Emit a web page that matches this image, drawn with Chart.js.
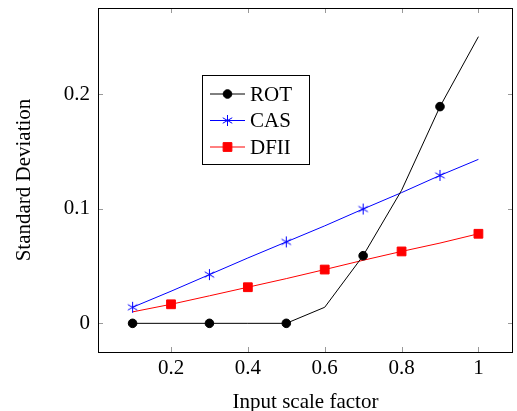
<!DOCTYPE html>
<html>
<head>
<meta charset="utf-8">
<script src="https://cdn.jsdelivr.net/npm/chart.js@4.4.0/dist/chart.umd.min.js"></script>
<style>
  html, body { margin: 0; padding: 0; background: #fff; }
  #wrap { width: 517px; height: 411px; }
</style>
</head>
<body>
<div id="wrap"><canvas id="grafico" width="517" height="411"></canvas></div>
<script>
const escala = [0.1, 0.2, 0.3, 0.4, 0.5, 0.6, 0.7, 0.8, 0.9, 1.0];
const rot  = [0, 0, 0, 0, 0, 0.014, 0.059, 0.116, 0.189, 0.25];
const cas  = [0.014, 0.028, 0.0425, 0.057, 0.071, 0.085, 0.0997, 0.114, 0.129, 0.143];
const dfii = [0.010, 0.0166, 0.024, 0.0315, 0.039, 0.0469, 0.055, 0.0627, 0.070, 0.0781];
const ticksX = [0.2, 0.4, 0.6, 0.8, 1];
const ticksY = [0, 0.1, 0.2];

const fonte = "'Liberation Serif', 'DejaVu Serif', serif";
const tam = 21;

// marcas só em pontos alternados (mark repeat)
const impar = (r) => escala.map((_, i) => i % 2 === 0 ? r : 0);
const par = (r) => escala.map((_, i) => i % 2 === 1 ? r : 0);

const pts = (ys) => escala.map((x, i) => ({ x: x, y: ys[i] }));

// asterisco de 6 pontas (como no pgfplots)
function asterisco(cor, r) {
  const c = document.createElement('canvas');
  const s = Math.ceil(r * 2 + 2);
  c.width = s; c.height = s;
  const g = c.getContext('2d');
  g.strokeStyle = cor;
  g.lineWidth = 1;
  g.beginPath();
  for (let k = 0; k < 3; k++) {
    const ang = Math.PI / 2 + k * Math.PI / 3;
    const dx = Math.cos(ang) * r, dy = Math.sin(ang) * r;
    g.moveTo(s / 2 - dx, s / 2 - dy);
    g.lineTo(s / 2 + dx, s / 2 + dy);
  }
  g.stroke();
  return c;
}
const estrela = asterisco('#0000ff', 5.5);

// caixa do eixo, ticks internos e legenda
const moldura = {
  id: 'moldura',
  afterDraw(chart) {
    const { ctx, chartArea: a, scales } = chart;
    ctx.save();
    ctx.strokeStyle = '#999';
    ctx.lineWidth = 1;
    ctx.beginPath();
    ticksX.forEach(v => {
      const px = Math.round(scales.x.getPixelForValue(v)) + 0.5;
      ctx.moveTo(px, a.bottom); ctx.lineTo(px, a.bottom - 5);
      ctx.moveTo(px, a.top); ctx.lineTo(px, a.top + 5);
    });
    ticksY.forEach(v => {
      const py = Math.round(scales.y.getPixelForValue(v)) + 0.5;
      ctx.moveTo(a.left, py); ctx.lineTo(a.left + 5, py);
      ctx.moveTo(a.right, py); ctx.lineTo(a.right - 5, py);
    });
    ctx.stroke();

    ctx.strokeStyle = '#000';
    ctx.strokeRect(Math.round(a.left) + 0.5, Math.round(a.top) + 0.5,
      Math.round(a.right - a.left) - 1, Math.round(a.bottom - a.top));

    // legenda
    const lx = 202.5, ly = 75.5, lw = 107, lh = 89;
    ctx.fillStyle = '#fff';
    ctx.fillRect(lx, ly, lw, lh);
    ctx.strokeStyle = '#000';
    ctx.strokeRect(lx, ly, lw, lh);
    chart.data.datasets.forEach((ds, i) => {
      const y = 94 + i * 26.5;
      ctx.strokeStyle = ds.borderColor;
      ctx.lineWidth = 1;
      ctx.beginPath();
      ctx.moveTo(210, y); ctx.lineTo(245, y);
      ctx.stroke();
      ctx.fillStyle = ds.backgroundColor;
      Chart.helpers.drawPoint(ctx, { pointStyle: ds.pointStyle, radius: ds.legendaRaio, borderWidth: 1 }, 227.5, y);
      ctx.fillStyle = '#000';
      ctx.font = tam + 'px ' + fonte;
      ctx.textBaseline = 'middle';
      ctx.textAlign = 'left';
      ctx.fillText(ds.label, 250, y + 1);
    });
    ctx.restore();
  }
};

const ctxGrafico = document.getElementById('grafico').getContext('2d');

new Chart(ctxGrafico, {
  type: 'line',
  data: {
    datasets: [{
      label: 'ROT',
      data: pts(rot),
      borderColor: '#000',
      backgroundColor: '#000',
      borderWidth: 1,
      pointStyle: 'circle',
      pointRadius: impar(4.3),
      legendaRaio: 4.3,
      pointBorderWidth: 1
    }, {
      label: 'CAS',
      data: pts(cas),
      borderColor: '#0000ff',
      backgroundColor: '#0000ff',
      borderWidth: 1,
      pointStyle: estrela,
      pointRadius: impar(5.5),
      legendaRaio: 5.5,
      pointBorderWidth: 1
    }, {
      label: 'DFII',
      data: pts(dfii),
      borderColor: '#ff0000',
      backgroundColor: '#ff0000',
      borderWidth: 1,
      pointStyle: 'rect',
      pointRadius: par(6.2),
      legendaRaio: 6.2,
      pointBorderWidth: 1
    }]
  },
  options: {
    responsive: false,
    animation: false,
    events: [],
    layout: { autoPadding: false, padding: { top: 8, right: 4, left: 0, bottom: 0 } },
    plugins: { legend: { display: false }, tooltip: { enabled: false } },
    scales: {
      x: {
        type: 'linear',
        min: 0.01,
        max: 1.09,
        afterBuildTicks: s => { s.ticks = ticksX.map(v => ({ value: v })); },
        afterFit: s => { s.height = 59; s.paddingLeft = 0; s.paddingRight = 0; },
        grid: { display: false },
        border: { display: false },
        ticks: {
          color: '#000',
          font: { family: fonte, size: tam },
          padding: -4,
          callback: v => String(v)
        },
        title: {
          display: true,
          text: 'Input scale factor',
          color: '#000',
          font: { family: fonte, size: tam },
          padding: { top: 0, bottom: -4 }
        }
      },
      y: {
        min: -0.025,
        max: 0.275,
        afterBuildTicks: s => { s.ticks = ticksY.map(v => ({ value: v })); },
        afterFit: s => { s.width = 98; s.paddingTop = 0; s.paddingBottom = 0; },
        grid: { display: false, drawTicks: false, tickLength: 0 },
        border: { display: false },
        ticks: {
          color: '#000',
          font: { family: fonte, size: tam },
          padding: 8,
          callback: v => String(v)
        },
        title: {
          display: true,
          text: 'Standard Deviation',
          color: '#000',
          font: { family: fonte, size: tam },
          padding: { top: 12, bottom: 0 }
        }
      }
    }
  },
  plugins: [moldura]
});
</script>
</body>
</html>
